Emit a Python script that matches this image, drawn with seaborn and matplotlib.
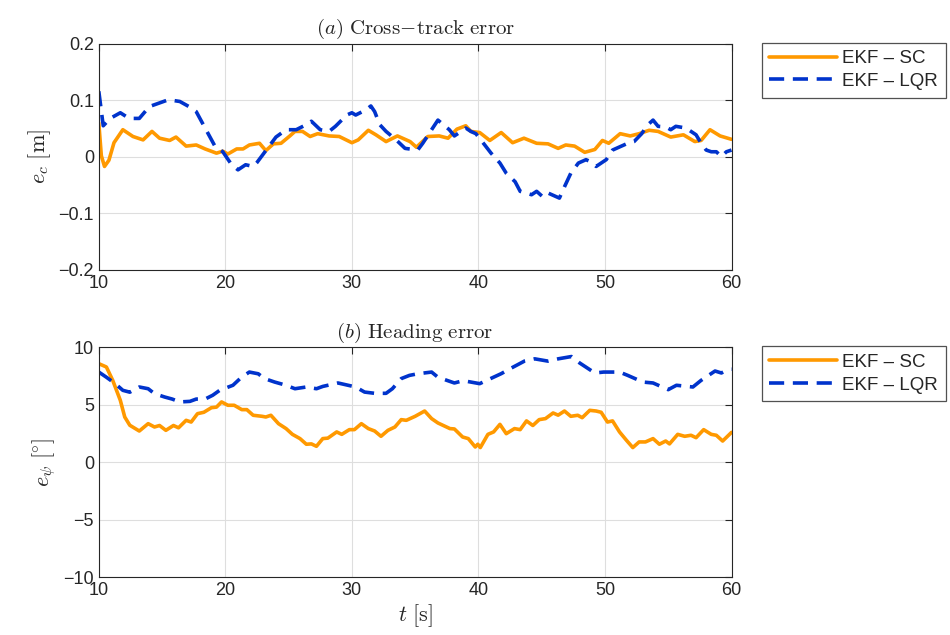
import numpy as np
import pandas as pd
import seaborn as sns
import matplotlib.pyplot as plt

# ---- data ----

# (a) cross-track error, EKF - SC
t_ec_sc = [10.0, 10.2, 10.45, 10.8, 11.2, 11.9, 12.7, 13.5, 14.2, 14.8, 15.6, 16.1, 16.9,
           17.7, 18.4, 19.3, 19.8, 20.2, 20.9, 21.4, 21.9, 22.7, 23.2, 23.8, 24.4, 25.1,
           25.5, 26.1, 26.7, 27.3, 28.2, 29.0, 30.0, 30.5, 31.3, 31.9, 32.7, 33.6, 34.6,
           35.1, 36.0, 36.9, 37.6, 38.3, 39.0, 39.4, 40.1, 40.9, 41.8, 42.7, 43.6, 44.6,
           45.5, 46.3, 46.9, 47.6, 48.4, 49.2, 49.8, 50.3, 51.2, 52.0, 52.7, 53.5, 54.2,
           55.2, 56.2, 57.1, 57.6, 58.3, 59.1, 60.0]
ec_sc = [0.060, 0.002, -0.017, -0.006, 0.025, 0.048, 0.036, 0.030, 0.045, 0.033, 0.029,
         0.035, 0.019, 0.021, 0.014, 0.0065, 0.010, 0.005, 0.014, 0.014, 0.021, 0.024,
         0.011, 0.023, 0.024, 0.037, 0.045, 0.045, 0.036, 0.041, 0.037, 0.036, 0.025,
         0.030, 0.047, 0.039, 0.027, 0.037, 0.027, 0.017, 0.036, 0.037, 0.033, 0.049,
         0.055, 0.045, 0.043, 0.029, 0.043, 0.025, 0.033, 0.024, 0.023, 0.015, 0.021,
         0.019, 0.008, 0.013, 0.029, 0.024, 0.041, 0.037, 0.041, 0.047, 0.045, 0.035,
         0.039, 0.027, 0.029, 0.048, 0.037, 0.031]

# (a) cross-track error, EKF - LQR
t_ec_lqr = [10.0, 10.35, 10.9, 11.7, 12.4, 13.2, 14.0, 15.5, 16.4, 17.2, 17.7, 18.4, 19.2,
            19.8, 20.5, 21.0, 21.6, 22.2, 22.5, 23.2, 24.0, 24.8, 25.6, 26.4, 26.8, 27.5,
            28.2, 28.7, 29.6, 30.0, 30.3, 31.1, 31.5, 31.8, 32.2, 32.7, 33.5, 34.2, 35.2,
            35.6, 36.3, 36.8, 37.7, 38.1, 38.5, 39.0, 39.4, 39.8, 40.5, 41.0, 41.7, 42.2,
            42.9, 43.3, 44.2, 44.6, 45.1, 45.5, 46.0, 46.4, 46.8, 47.3, 47.9, 48.5, 48.8,
            49.3, 49.7, 50.1, 50.6, 51.3, 51.8, 52.3, 52.9, 53.4, 53.8, 54.2, 54.8, 55.2,
            55.6, 56.4, 56.8, 57.2, 57.6, 58.0, 58.4, 58.8, 59.2, 59.6, 60.0]
ec_lqr = [0.116, 0.055, 0.068, 0.078, 0.068, 0.068, 0.089, 0.101, 0.098, 0.088, 0.080,
          0.051, 0.018, 0.009, -0.014, -0.023, -0.014, -0.017, -0.010, 0.011, 0.035,
          0.048, 0.048, 0.057, 0.063, 0.048, 0.045, 0.054, 0.074, 0.078, 0.074, 0.083,
          0.090, 0.080, 0.057, 0.045, 0.030, 0.015, 0.012, 0.024, 0.048, 0.065, 0.048,
          0.037, 0.043, 0.051, 0.045, 0.041, 0.021, 0.0065, -0.011, -0.029, -0.044,
          -0.061, -0.067, -0.061, -0.071, -0.064, -0.069, -0.073, -0.053, -0.029, -0.011,
          -0.005, -0.008, -0.017, -0.011, -0.005, 0.012, 0.019, 0.024, 0.027, 0.041,
          0.057, 0.065, 0.054, 0.053, 0.048, 0.054, 0.051, 0.045, 0.039, 0.024, 0.012,
          0.009, 0.009, 0.0005, 0.009, 0.012]

# (b) heading error, EKF - SC
t_psi_sc = [10.0, 10.6, 11.1, 11.7, 12.05, 12.45, 13.2, 13.9, 14.4, 14.8, 15.3, 15.9, 16.3,
            16.9, 17.3, 17.8, 18.3, 18.9, 19.3, 19.7, 20.2, 20.7, 21.3, 21.7, 22.2, 22.9,
            23.2, 23.6, 24.2, 24.8, 25.3, 25.9, 26.4, 26.8, 27.2, 27.7, 28.1, 28.8, 29.2,
            29.8, 30.2, 30.75, 31.3, 31.8, 32.3, 32.85, 33.4, 33.9, 34.3, 35.0, 35.75,
            36.3, 36.8, 37.75, 38.1, 38.75, 39.2, 39.75, 39.95, 40.15, 40.75, 41.2, 41.7,
            42.2, 42.85, 43.3, 43.8, 44.3, 44.8, 45.3, 45.9, 46.3, 46.8, 47.3, 47.85, 48.2,
            48.8, 49.3, 49.7, 50.2, 50.6, 51.15, 51.7, 52.2, 52.7, 53.2, 53.8, 54.3, 54.8,
            55.1, 55.75, 56.3, 56.8, 57.2, 57.8, 58.4, 58.8, 59.3, 60.0]
psi_sc = [8.58, 8.29, 7.13, 5.39, 3.94, 3.22, 2.72, 3.36, 3.07, 3.2, 2.78, 3.2, 3.0, 3.65,
          3.5, 4.23, 4.35, 4.75, 4.8, 5.25, 4.96, 4.96, 4.58, 4.58, 4.09, 4.0, 3.94, 4.09,
          3.36, 2.93, 2.43, 2.06, 1.57, 1.6, 1.39, 2.06, 2.1, 2.64, 2.43, 2.84, 2.84, 3.36,
          2.93, 2.72, 2.26, 2.78, 3.07, 3.71, 3.65, 4.0, 4.46, 3.8, 3.42, 2.93, 2.9, 2.2,
          2.06, 1.33, 1.57, 1.28, 2.43, 2.64, 3.3, 2.49, 2.93, 2.84, 3.6, 3.2, 3.71, 3.8,
          4.29, 4.1, 4.46, 4.0, 4.09, 3.88, 4.52, 4.46, 4.35, 3.5, 3.6, 2.64, 1.91, 1.28,
          1.77, 1.77, 2.06, 1.57, 1.85, 1.6, 2.43, 2.26, 2.35, 2.14, 2.84, 2.43, 2.35,
          1.85, 2.6]

# (b) heading error, EKF - LQR
t_psi_lqr = [10.0, 10.6, 11.3, 11.9, 12.45, 13.2, 13.9, 14.4, 15.2, 15.8, 16.4, 17.2, 17.7,
             18.4, 19.0, 19.55, 20.1, 20.6, 21.3, 21.9, 22.6, 23.1, 23.9, 24.8, 25.5, 26.4,
             27.2, 27.7, 28.9, 29.7, 30.3, 31.0, 31.8, 32.7, 33.2, 33.9, 34.55, 35.2, 36.3,
             36.8, 38.1, 38.8, 40.1, 40.8, 41.8, 42.5, 43.65, 44.45, 45.5, 46.3, 47.35,
             48.0, 49.2, 49.9, 51.15, 51.8, 53.0, 53.8, 55.0, 55.65, 56.95, 57.6, 58.7,
             59.2, 59.7, 60.0]
psi_lqr = [7.85, 7.4, 6.84, 6.26, 6.1, 6.55, 6.4, 5.97, 5.68, 5.5, 5.25, 5.3, 5.5, 5.5,
           5.83, 6.26, 6.49, 6.7, 7.42, 7.85, 7.7, 7.28, 6.98, 6.7, 6.4, 6.55, 6.4, 6.6,
           6.9, 6.7, 6.55, 6.11, 6.0, 6.0, 6.4, 7.28, 7.56, 7.7, 7.85, 7.4, 6.9, 7.1, 6.84,
           7.2, 7.71, 8.14, 8.81, 9.0, 8.8, 9.0, 9.2, 8.64, 7.77, 7.85, 7.85, 7.56, 6.98,
           6.9, 6.32, 6.7, 6.55, 7.13, 7.94, 7.77, 8.06, 8.1]

series_names = ['EKF – SC', 'EKF – LQR']
x_ticks = [10, 20, 30, 40, 50, 60]
ec_ticks = [-0.2, -0.1, 0, 0.1, 0.2]
psi_ticks = [-10, -5, 0, 5, 10]

colors = {series_names[0]: '#ff9900', series_names[1]: '#0033cc'}
dash_map = {series_names[0]: '', series_names[1]: (4.2, 2.4)}


def make_frame(t_a, v_a, t_b, v_b):
    a = pd.DataFrame({'t': t_a, 'val': v_a, 'series': series_names[0]})
    b = pd.DataFrame({'t': t_b, 'val': v_b, 'series': series_names[1]})
    return pd.concat([a, b], ignore_index=True)


sns.set_theme(style='white')
plt.rcParams['font.family'] = ['Liberation Sans', 'DejaVu Sans']
plt.rcParams['mathtext.fontset'] = 'cm'
plt.rcParams['axes.edgecolor'] = '0.15'
plt.rcParams['xtick.color'] = '0.15'
plt.rcParams['ytick.color'] = '0.15'

fig = plt.figure(figsize=(9.5, 6.35), dpi=100)
ax1 = fig.add_axes([0.104, 0.575, 0.666, 0.356])
ax2 = fig.add_axes([0.104, 0.091, 0.666, 0.362])


def draw_panel(ax, df, yticks, title, ylabel):
    sns.lineplot(data=df, x='t', y='val', hue='series', style='series',
                 palette=colors, dashes=dash_map, estimator=None,
                 linewidth=2.6, ax=ax)
    ax.set_xlim(10, 60)
    ax.set_ylim(yticks[0], yticks[-1])
    ax.set_xticks(x_ticks)
    ax.set_yticks(yticks)
    ax.set_xticklabels([str(v) for v in x_ticks])
    ax.set_yticklabels([('%g' % v).replace('-', '−') for v in yticks])
    ax.grid(True, color='0.87', linewidth=0.8)
    ax.tick_params(direction='in', length=5, width=0.8, top=True, right=True,
                   labelsize=13, colors='0.15')
    for s in ax.spines.values():
        s.set_linewidth(0.8)
        s.set_color('0.15')
    ax.set_title(title, fontsize=15, pad=7)
    ax.set_ylabel(ylabel, fontsize=16)
    ax.set_xlabel('')
    leg = ax.legend(loc='upper left', bbox_to_anchor=(1.048, 1.005), borderaxespad=0,
                    frameon=True, fancybox=False, edgecolor='0.15', fontsize=13.5,
                    handlelength=3.6, borderpad=0.4, labelspacing=0.3, handletextpad=0.3)
    leg.get_frame().set_linewidth(0.9)
    for line in leg.get_lines():
        line.set_linewidth(2.6)


draw_panel(ax1, make_frame(t_ec_sc, ec_sc, t_ec_lqr, ec_lqr), ec_ticks,
           r'$(a)\ \mathrm{Cross\!-\!track\ error}$', r'$e_c\ [\mathrm{m}]$')
draw_panel(ax2, make_frame(t_psi_sc, psi_sc, t_psi_lqr, psi_lqr), psi_ticks,
           r'$(b)\ \mathrm{Heading\ error}$', r'$e_\psi\ [\!^\circ\!]$')
ax2.set_xlabel(r'$t\ [\mathrm{s}]$', fontsize=16, labelpad=2)

plt.savefig('out.png', dpi=100)
